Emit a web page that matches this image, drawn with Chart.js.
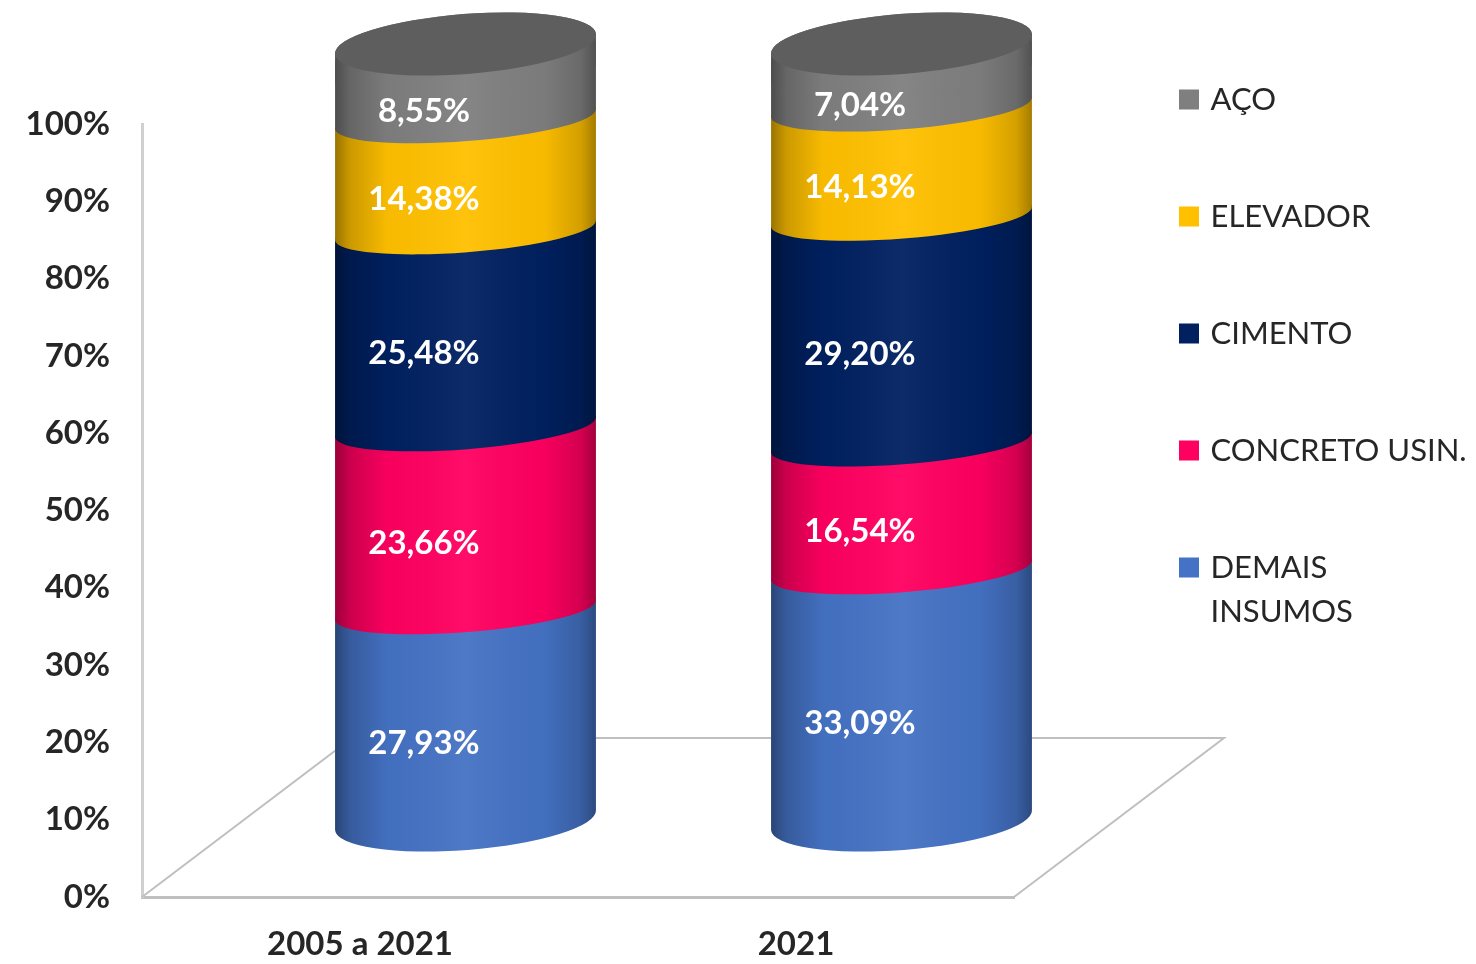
<!DOCTYPE html>
<html>
<head>
<meta charset="utf-8">
<title>Insumos</title>
<script src="https://cdn.jsdelivr.net/npm/chart.js@4"></script>
<style>
html, body { margin: 0; padding: 0; background: #fff; }
#wrap { width: 1476px; height: 964px; }
#mycanvas { filter: blur(0.6px); }
</style>
</head>
<body>
<div id="wrap"><canvas id="mycanvas"></canvas></div>
<script>
var categorias = ['2005 a 2021', '2021'];
var demais = [27.93, 33.09];
var concreto = [23.66, 16.54];
var cimento = [25.48, 29.20];
var elevador = [14.38, 14.13];
var aco = [8.55, 7.04];
var cores = ['#4472c4', '#ff0060', '#002060', '#ffc000', '#7f7f7f'];

var fonte = 'Lato, sans-serif';

// cylinders sit behind the axis plane, so everything is shifted from the scale position
var desvioX = 105.5, desvioY = -71;
var inclinacao = -0.077;

function fatia(ctx, cx, yBaixo, yAlto, rx, ryBaixo, ryAlto, cor) {
	ctx.beginPath();
	ctx.ellipse(cx, yBaixo, rx, ryBaixo, inclinacao, 0, Math.PI);
	ctx.ellipse(cx, yAlto, rx, ryAlto, inclinacao, Math.PI, Math.PI * 2);
	ctx.closePath();
	ctx.fillStyle = cor;
	ctx.fill();
	var g = ctx.createLinearGradient(cx - rx, 0, cx + rx, 0);
	g.addColorStop(0, 'rgba(0,0,0,0.4)');
	g.addColorStop(0.06, 'rgba(0,0,0,0.2)');
	g.addColorStop(0.2, 'rgba(0,0,0,0.03)');
	g.addColorStop(0.5, 'rgba(255,255,255,0.05)');
	g.addColorStop(0.8, 'rgba(0,0,0,0.03)');
	g.addColorStop(0.94, 'rgba(0,0,0,0.17)');
	g.addColorStop(1, 'rgba(0,0,0,0.36)');
	ctx.fillStyle = g;
	ctx.fill();
}

var cilindros = {
	id: 'cilindros',
	beforeDatasetsDraw: function(chart) {
		// floor of the 3D box
		var ctx = chart.ctx, a = chart.chartArea;
		ctx.save();
		ctx.strokeStyle = '#bfbfbf';
		ctx.lineWidth = 2;
		ctx.beginPath();
		ctx.moveTo(a.left, a.bottom);
		ctx.lineTo(a.left + 210, a.bottom - 159);
		ctx.lineTo(a.right + 210, a.bottom - 159);
		ctx.lineTo(a.right, a.bottom);
		ctx.stroke();
		ctx.restore();
	},
	beforeDatasetDraw: function() {
		return false;
	},
	afterDatasetsDraw: function(chart) {
		var ctx = chart.ctx;
		var n = chart.data.datasets.length;
		ctx.save();
		chart.data.labels.forEach(function(lab, c) {
			for (var d = 0; d < n; d++) {
				var el = chart.getDatasetMeta(d).data[c];
				var cx = el.x + desvioX, rx = el.width / 2;
				var yb = el.base + desvioY + (d === 0 ? -6 : 0);
				var ya = el.y + desvioY;
				fatia(ctx, cx, yb, ya, rx, d === 0 ? 30 : 22, 22, cores[d]);
				if (d === n - 1) {
					// top cap
					var yt = el.y + desvioY - 9;
					fatia(ctx, cx, yt + 30, yt, rx, 22, 30, cores[d]);
					ctx.beginPath();
					ctx.ellipse(cx, yt, rx, 30, inclinacao, 0, Math.PI * 2);
					ctx.fillStyle = '#5e5e5e';
					ctx.fill();
				}
			}
			ctx.fillStyle = '#fff';
			ctx.font = 'bold 33px ' + fonte;
			ctx.textAlign = 'center';
			ctx.textBaseline = 'middle';
			for (var d2 = 0; d2 < n; d2++) {
				var e = chart.getDatasetMeta(d2).data[c];
				var txt = chart.data.datasets[d2].data[c].toFixed(2).replace('.', ',') + '%';
				ctx.fillText(txt, e.x + 64, (e.y + e.base) / 2 - 46);
			}
		});
		ctx.restore();
	},
	afterLayout: function(chart) {
		// legend lives right of the box, outside of the plot
		chart.legend.left = 1097;
		chart.legend.right = 1476;
		chart.legend.top = -2;
	}
};

var ctx = document.getElementById('mycanvas');
new Chart(ctx, {
	type: 'bar',
	plugins: [cilindros],
	data: {
		labels: categorias,
		datasets: [
			{ label: ['DEMAIS', 'INSUMOS'], data: demais, backgroundColor: cores[0], borderColor: cores[0], borderWidth: 8 },
			{ label: 'CONCRETO USIN.', data: concreto, backgroundColor: cores[1], borderColor: cores[1], borderWidth: 8 },
			{ label: 'CIMENTO', data: cimento, backgroundColor: cores[2], borderColor: cores[2], borderWidth: 8 },
			{ label: 'ELEVADOR', data: elevador, backgroundColor: cores[3], borderColor: cores[3], borderWidth: 8 },
			{ label: 'AÇO', data: aco, backgroundColor: cores[4], borderColor: cores[4], borderWidth: 8 }
		]
	},
	options: {
		responsive: true,
		maintainAspectRatio: false,
		animation: false,
		categoryPercentage: 0.6,
		barPercentage: 1,
		layout: { padding: { left: 0, right: 462, top: 124, bottom: 0 } },
		scales: {
			x: {
				stacked: true,
				afterFit: function(s) { s.height = 67; },
				grid: { display: false },
				border: { color: '#bfbfbf', width: 3 },
				ticks: { color: '#262626', padding: 20, maxRotation: 0, font: { family: fonte, size: 33, weight: 'bold' } }
			},
			y: {
				stacked: true,
				min: 0,
				max: 100,
				afterFit: function(s) { s.width = 142; },
				grid: { display: false },
				border: { color: '#d0d0d0', width: 3 },
				ticks: {
					stepSize: 10,
					color: '#262626',
					padding: 24,
					font: { family: fonte, size: 33, weight: 'bold' },
					callback: function(v) { return v + '%'; }
				}
			}
		},
		plugins: {
			tooltip: { enabled: false },
			legend: {
				position: 'chartArea',
				align: 'start',
				reverse: true,
				labels: {
					color: '#262626',
					boxWidth: 12,
					boxHeight: 12,
					padding: 86,
					font: { family: fonte, size: 31, lineHeight: 1.42 }
				}
			}
		}
	}
});
</script>
</body>
</html>
